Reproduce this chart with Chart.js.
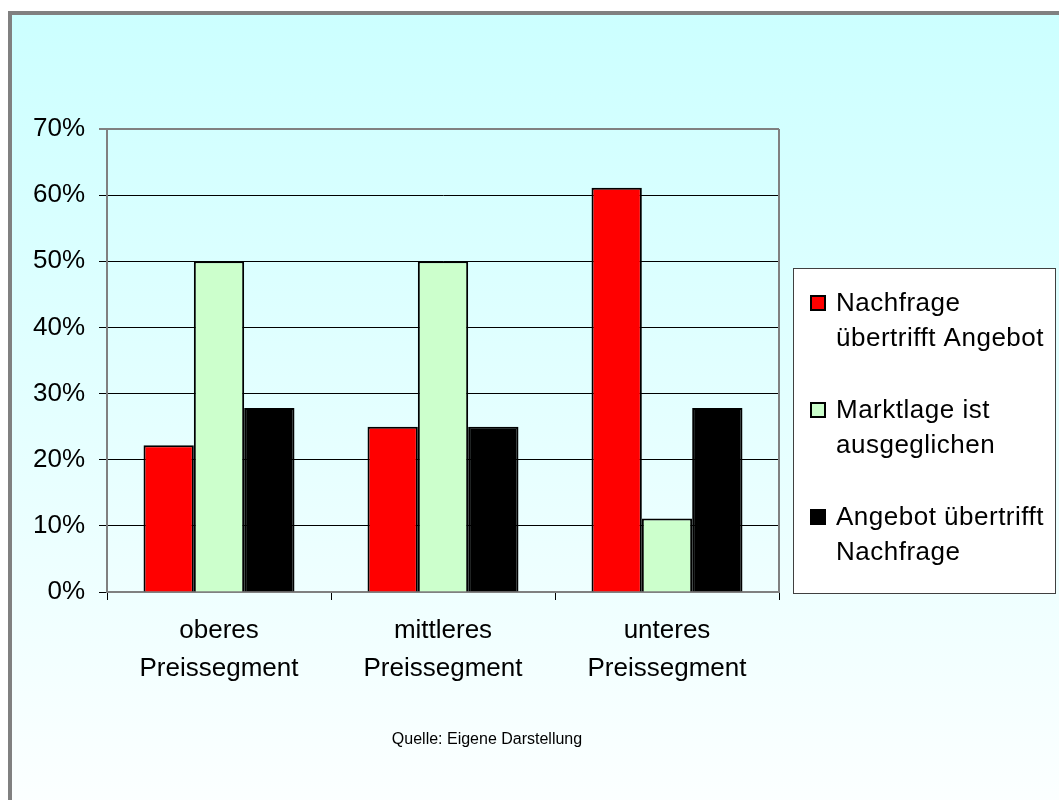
<!DOCTYPE html>
<html>
<head>
<meta charset="utf-8">
<script src="https://cdn.jsdelivr.net/npm/chart.js@4.4.1/dist/chart.umd.min.js"></script>
<style>
  html, body { margin: 0; padding: 0; background: #fff; }
  canvas { display: block; }
</style>
</head>
<body>
<canvas id="marktlage" width="1059" height="800"></canvas>
<script>
// categories and series (shares in %)
var categories = ["oberes Preissegment", "mittleres Preissegment", "unteres Preissegment"];
var seriesLabels = ["Nachfrage übertrifft Angebot", "Marktlage ist ausgeglichen", "Angebot übertrifft Nachfrage"];
var nachfrageUeber = [22.2, 25, 61.1];
var ausgeglichen = [50, 50, 11.1];
var angebotUeber = [27.8, 25, 27.8];
var yTicks = [0, 10, 20, 30, 40, 50, 60, 70];
var sourceNote = "Quelle: Eigene Darstellung";

var FONT = '"Liberation Sans", Arial, sans-serif';
var colors = ["#FF0000", "#CCFFCC", "#000000"];

var ctx = document.getElementById("marktlage");

// background, outer frame, plot border, legend box and source line
var frame = {
  id: "frame",
  beforeDraw: function (chart) {
    var c = chart.ctx;
    c.save();
    c.fillStyle = "#fff";
    c.fillRect(0, 0, chart.width, chart.height);
    var g = c.createLinearGradient(0, 13, 0, 860);
    g.addColorStop(0, "#CCFFFF");
    g.addColorStop(1, "#FFFFFF");
    c.fillStyle = g;
    c.fillRect(10, 13, chart.width - 10, chart.height - 13);
    c.fillStyle = "#808080";
    c.fillRect(8, 11, chart.width - 8, 4);
    c.fillRect(8, 11, 4, chart.height - 11);
    c.restore();
  },
  afterDraw: function (chart) {
    var c = chart.ctx;
    var a = chart.chartArea;
    c.save();
    // right border of plot area
    c.strokeStyle = "#808080";
    c.lineWidth = 2;
    c.beginPath();
    c.moveTo(a.right, a.top);
    c.lineTo(a.right, a.bottom);
    c.stroke();

    // legend
    c.fillStyle = "#fff";
    c.fillRect(793, 268, 263, 326);
    c.strokeStyle = "#404040";
    c.lineWidth = 1;
    c.strokeRect(793.5, 268.5, 262, 325);
    c.font = "26px " + FONT;
    c.letterSpacing = "0.5px";
    c.textBaseline = "alphabetic";
    c.textAlign = "left";
    chart.data.datasets.forEach(function (ds, i) {
      var base = 311 + i * 107;
      c.fillStyle = ds.backgroundColor;
      c.fillRect(810, base - 16, 16, 16);
      c.strokeStyle = "#000";
      c.lineWidth = 2;
      c.strokeRect(811, base - 15, 14, 14);
      var words = ds.label.split(" ");
      var lines = [];
      var cur = "";
      words.forEach(function (w) {
        var test = cur ? cur + " " + w : w;
        if (cur && c.measureText(test).width > 215) {
          lines.push(cur);
          cur = w;
        } else {
          cur = test;
        }
      });
      lines.push(cur);
      c.fillStyle = "#000";
      lines.forEach(function (ln, k) {
        c.fillText(ln, 836, base + k * 35);
      });
    });

    // source note
    c.letterSpacing = "0px";
    c.font = "16px " + FONT;
    c.textAlign = "center";
    c.fillStyle = "#000";
    c.fillText(sourceNote, 487, 744);
    c.restore();
  }
};

new Chart(ctx, {
  type: "bar",
  data: {
    labels: categories,
    datasets: [
      { label: seriesLabels[0], data: nachfrageUeber, backgroundColor: colors[0] },
      { label: seriesLabels[1], data: ausgeglichen, backgroundColor: colors[1] },
      { label: seriesLabels[2], data: angebotUeber, backgroundColor: colors[2] }
    ].map(function (d) {
      d.borderColor = "#000";
      d.borderWidth = 2;
      d.barPercentage = 1.0;
      d.categoryPercentage = 0.674;
      return d;
    })
  },
  options: {
    responsive: false,
    animation: false,
    devicePixelRatio: 1,
    layout: { padding: { left: 0, top: 129, right: 280, bottom: 0 } },
    plugins: {
      legend: { display: false },
      tooltip: { enabled: false }
    },
    scales: {
      x: {
        offset: true,
        grid: { drawOnChartArea: false, tickLength: 8, color: "#000", offset: true },
        border: { color: "#808080", width: 2 },
        ticks: {
          color: "#000",
          font: { family: FONT, size: 26, lineHeight: 1.46 },
          padding: 12,
          maxRotation: 0,
          callback: function (v) {
            return this.getLabelForValue(v).split(" ");
          }
        },
        afterFit: function (s) { s.height = 208; }
      },
      y: {
        min: 0,
        max: 70,
        afterBuildTicks: function (s) {
          s.ticks = yTicks.map(function (v) { return { value: v }; });
        },
        grid: {
          tickLength: 8,
          color: function (c) { return c.tick && c.tick.value === 70 ? "#808080" : "#000"; },
          lineWidth: function (c) { return c.tick && c.tick.value === 70 ? 2 : 1; }
        },
        border: { color: "#808080", width: 2 },
        ticks: {
          color: "#000",
          font: { family: FONT, size: 26 },
          padding: 14,
          callback: function (v) { return v + "%"; }
        },
        afterFit: function (s) { s.width = 107; }
      }
    }
  },
  plugins: [frame]
});
</script>
</body>
</html>
